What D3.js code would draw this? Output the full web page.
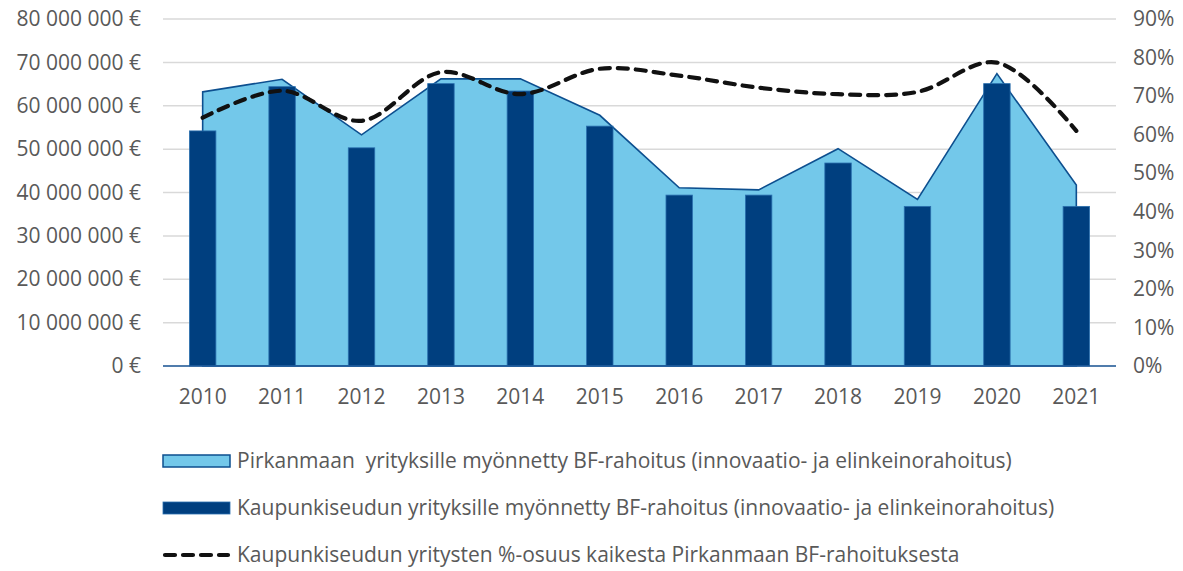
<!DOCTYPE html>
<html><head><meta charset="utf-8">
<script src="https://cdn.jsdelivr.net/npm/d3@7"></script>
<style>
body{margin:0;background:#fff;}
text{font-family:"Open Sans","Noto Sans",sans-serif;fill:#595959;white-space:pre;}
</style></head>
<body><svg id="c" width="1183" height="571"></svg>
<script>
const years = ["2010","2011","2012","2013","2014","2015","2016","2017","2018","2019","2020","2021"];
const pirkanmaa = [63.2,66.1,53.3,66.2,66.2,57.8,41.1,40.6,50.1,38.4,67.4,41.7].map(v=>v*1e6);
const kaupunkiseutu = [54.2,64.4,50.3,65.1,63.4,55.3,39.4,39.4,46.8,36.8,65.1,36.8].map(v=>v*1e6);
const osuus = [0.644,0.714,0.636,0.762,0.705,0.771,0.753,0.722,0.705,0.711,0.787,0.610];
const leftTicks = [0,10e6,20e6,30e6,40e6,50e6,60e6,70e6,80e6];
const rightTicks = [0,0.1,0.2,0.3,0.4,0.5,0.6,0.7,0.8,0.9];
const legendLabels = [
 "Pirkanmaan  yrityksille myönnetty BF-rahoitus (innovaatio- ja elinkeinorahoitus)",
 "Kaupunkiseudun yrityksille myönnetty BF-rahoitus (innovaatio- ja elinkeinorahoitus)",
 "Kaupunkiseudun yritysten %-osuus kaikesta Pirkanmaan BF-rahoituksesta"];

const FS = "21px";
const svg = d3.select("#c");
const L=163, R=1116, T=19, B=366;
const x = d3.scaleBand().domain(years).range([L,R]).paddingInner(0.667).paddingOuter(0.333);
const xc = d => x(d)+x.bandwidth()/2;
const y = d3.scaleLinear().domain([0,80e6]).range([B,T]);
const y2 = d3.scaleLinear().domain([0,0.9]).range([B,T]);
const fmt = v => d3.format(",")(v).replace(/,/g," ")+" €";

// gridlines
svg.append("g").selectAll("line").data(leftTicks).join("line")
 .attr("x1",L).attr("x2",R).attr("y1",d=>y(d)).attr("y2",d=>y(d))
 .attr("stroke","#d9d9d9").attr("stroke-width",1.5);

// left axis
const la = svg.append("g").attr("transform",`translate(${L},0)`)
 .call(d3.axisLeft(y).tickValues(leftTicks).tickFormat(fmt).tickSize(0).tickPadding(22));
la.select(".domain").remove();
la.selectAll("text").style("font-size",FS).attr("fill","#595959");
// right axis
const ra = svg.append("g").attr("transform",`translate(${R},0)`)
 .call(d3.axisRight(y2).tickValues(rightTicks).tickFormat(d3.format(".0%")).tickSize(0).tickPadding(17));
ra.select(".domain").remove();
ra.selectAll("text").style("font-size",FS).attr("fill","#595959");

// area
const area = d3.area().x((d,i)=>xc(years[i])).y0(B).y1(d=>y(d));
svg.append("path").datum(pirkanmaa).attr("d",area)
 .attr("fill","#73c8ea").attr("stroke","#0d4f8f").attr("stroke-width",1.6).attr("stroke-linejoin","miter");

// bars
svg.append("g").selectAll("rect").data(kaupunkiseutu).join("rect")
 .attr("x",(d,i)=>x(years[i])).attr("width",x.bandwidth())
 .attr("y",d=>y(d)).attr("height",d=>B-y(d))
 .attr("fill","#003f7f").attr("stroke","#2a6fae").attr("stroke-width",0.8);

// axis baseline
svg.append("line").attr("x1",L).attr("x2",R).attr("y1",B).attr("y2",B)
 .attr("stroke","#1f5a9a").attr("stroke-width",1.5);

// line
const line = d3.line().x((d,i)=>xc(years[i])).y(d=>y2(d)).curve(d3.curveCatmullRom.alpha(0.5));
svg.append("path").datum(osuus).attr("d",line)
 .attr("fill","none").attr("stroke","#111").attr("stroke-width",4.2)
 .attr("stroke-dasharray","10,8").attr("stroke-linecap","round");

// x axis
const xa = svg.append("g").attr("transform",`translate(0,${B})`)
 .call(d3.axisBottom(x).tickSize(0).tickPadding(23));
xa.select(".domain").remove();
xa.selectAll("text").style("font-size",FS).attr("fill","#595959");

// legend
const lg = svg.append("g");
const ly = [461,508,555];
lg.append("rect").attr("x",163).attr("y",ly[0]-6).attr("width",67).attr("height",12)
 .attr("fill","#73c8ea").attr("stroke","#0d4f8f").attr("stroke-width",1.5);
lg.append("rect").attr("x",163).attr("y",ly[1]-6).attr("width",67).attr("height",12)
 .attr("fill","#003f7f").attr("stroke","#2a6fae").attr("stroke-width",0.8);
lg.append("line").attr("x1",165).attr("x2",228).attr("y1",ly[2]).attr("y2",ly[2])
 .attr("stroke","#111").attr("stroke-width",4.2).attr("stroke-dasharray","10,8").attr("stroke-linecap","round");
lg.selectAll("text").data(legendLabels).join("text")
 .attr("x",237).attr("y",(d,i)=>ly[i]).attr("dy","0.35em")
 .style("font-size",FS).text(d=>d);
</script></body></html>
